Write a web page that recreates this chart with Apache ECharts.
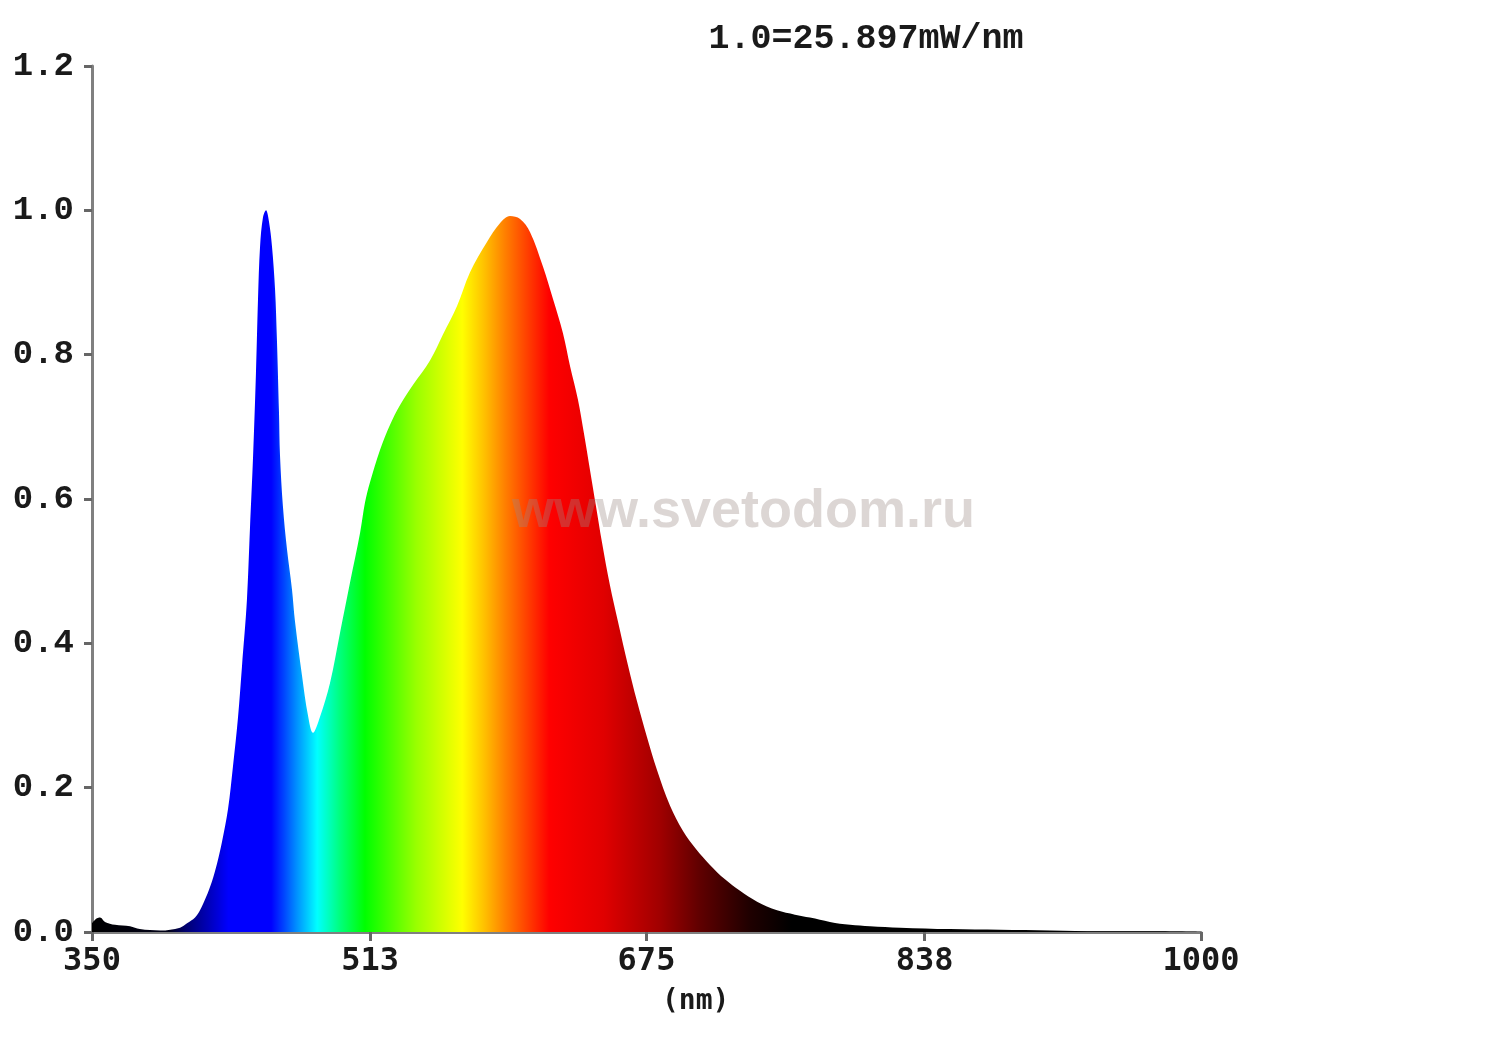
<!DOCTYPE html>
<html>
<head>
<meta charset="utf-8">
<script src="https://cdn.jsdelivr.net/npm/echarts@6/dist/echarts.min.js"></script>
<style>
html,body{margin:0;padding:0;background:#ffffff;}
#chart{width:1500px;height:1039px;}
</style>
</head>
<body>
<div id="chart"></div>
<script>
// ---- data ----
const titleText = '1.0=25.897mW/nm';
const xAxisName = '(nm)';
const watermark = 'www.svetodom.ru';

const wavelengths = [
  350, 352.3, 354.7, 357.6, 363.5, 372.3, 378, 390, 401.6, 405.7, 410.4, 413.3, 416.8,
  420.3, 423.3, 426.2, 429.7, 432.6, 435.6, 437.9, 440.8, 442.6, 444.4, 446.1, 447.3,
  448.5, 450.2, 452, 453.7, 455.5, 457.3, 458.4, 459.6, 460.2, 461.9, 464.3, 467.2,
  469, 473.1, 476.6, 479.5, 483.6, 489.5, 495.4, 501.2, 507.1, 510, 512.9, 518.8,
  524.7, 530.5, 538.1, 548.1, 555.7, 563.9, 571.5, 581.5, 589.1, 595, 600.9, 606.7,
  614.3, 620.2, 626, 630.2, 634.8, 638.4, 641.9, 645.4, 648.9, 653.6, 658.3, 664.1,
  669.4, 675.3, 681.1, 688.8, 696.4, 704, 712.2, 721, 729.8, 739.8, 751.5, 762,
  770.8, 782.5, 794.3, 806, 823.6, 852.9, 882.2, 911.5, 940.8, 970, 1000
];
const intensity = [
  0.012, 0.018, 0.02, 0.014, 0.01, 0.008, 0.004, 0.002, 0.006, 0.012, 0.02, 0.03, 0.048,
  0.07, 0.095, 0.125, 0.17, 0.229, 0.298, 0.368, 0.46, 0.56, 0.659, 0.775, 0.877,
  0.95, 0.99, 1.0, 0.985, 0.95, 0.89, 0.82, 0.72, 0.66, 0.59, 0.53, 0.475,
  0.43, 0.355, 0.30, 0.276, 0.298, 0.345, 0.415, 0.484, 0.553, 0.595, 0.623, 0.668,
  0.703, 0.73, 0.758, 0.792, 0.828, 0.867, 0.914, 0.956, 0.982, 0.992, 0.988, 0.97,
  0.922, 0.877, 0.83, 0.784, 0.738, 0.69, 0.64, 0.59, 0.54, 0.48, 0.43, 0.37,
  0.32, 0.27, 0.225, 0.175, 0.14, 0.115, 0.093, 0.073, 0.057, 0.042, 0.03, 0.024,
  0.02, 0.014, 0.01, 0.008, 0.006, 0.004, 0.003, 0.002, 0.001, 0.001, 0
];
const xTickValues = [350, 513, 675, 838, 1000];
const xTickLabels = ['350', '513', '675', '838', '1000'];
const yMin = 0, yMax = 1.2, yStep = 0.2;

// spectrum colours by wavelength (fill style)
const gradientNm = [350, 395, 405, 418, 430, 455, 462, 470, 482, 495, 510, 540, 567, 580, 592, 605, 618, 650, 683, 706, 735, 760, 1000];
const gradientColors = ['#000000', '#000018', '#000070', '#0000b8', '#0000ff', '#0000ff', '#0040ff', '#0090ff',
  '#00ffff', '#00ff80', '#00ff00', '#99ff00', '#ffff00', '#ffc000', '#ff8000', '#ff4000', '#ff0000',
  '#e00000', '#a00000', '#600000', '#200000', '#000000', '#000000'];

// ---- build ----
const xMin = 350, xMax = 1000;
const seriesData = wavelengths.map((w, i) => [w, intensity[i]]);
const stops = gradientNm.map((w, i) => ({ offset: (w - xMin) / (xMax - xMin), color: gradientColors[i] }));

const chart = echarts.init(document.getElementById('chart'), null, { renderer: 'canvas' });
const monoY = 'Liberation Mono';
const option = {
  backgroundColor: '#ffffff',
  animation: false,
  grid: { left: 92, right: 299, top: 66, bottom: 107, containLabel: false },
  title: {
    text: titleText,
    left: 861, top: 17,
    textAlign: 'center',
    textStyle: { fontFamily: monoY, fontWeight: 'bold', fontSize: 35, color: '#1a1a1a' }
  },
  graphic: [
    {
      type: 'text', z: 100, zlevel: 0,
      left: 512, top: 485,
      style: { text: watermark, fontFamily: 'Liberation Sans', fontWeight: 'bold', fontSize: 54, fill: '#9a8a85', opacity: 0.35 }
    },
    {
      type: 'text', z: 10,
      left: 662, top: 988,
      style: { text: xAxisName, fontFamily: 'DejaVu Sans Mono', fontWeight: 'bold', fontSize: 28, fill: '#1a1a1a' }
    }
  ],
  xAxis: {
    type: 'value',
    min: xMin, max: xMax,
    splitLine: { show: false },
    axisLine: { show: true, onZero: false, lineStyle: { color: '#808080', width: 3 } },
    axisTick: { show: true, customValues: xTickValues, length: 9, lineStyle: { color: '#666666', width: 3 } },
    axisLabel: {
      customValues: xTickValues,
      formatter: (v) => { const i = xTickValues.indexOf(v); return i >= 0 ? xTickLabels[i] : ''; },
      margin: 14,
      fontFamily: 'DejaVu Sans Mono', fontWeight: 'bold', fontSize: 32, color: '#1a1a1a'
    }
  },
  yAxis: {
    type: 'value',
    min: yMin, max: yMax, interval: yStep,
    splitLine: { show: false },
    axisLine: { show: true, lineStyle: { color: '#808080', width: 3 } },
    axisTick: { show: true, length: 8, lineStyle: { color: '#666666', width: 3 } },
    axisLabel: {
      formatter: (v) => v.toFixed(1),
      margin: 18,
      fontFamily: monoY, fontWeight: 'bold', fontSize: 34, color: '#1a1a1a'
    }
  },
  series: [{
    type: 'line',
    z: 2,
    data: seriesData,
    showSymbol: false,
    smooth: 0.35,
    lineStyle: { width: 1, color: 'rgba(0,0,0,0)' },
    areaStyle: {
      opacity: 1,
      color: new echarts.graphic.LinearGradient(0, 0, 1, 0, stops)
    }
  }]
};
chart.setOption(option);
</script>
</body>
</html>
